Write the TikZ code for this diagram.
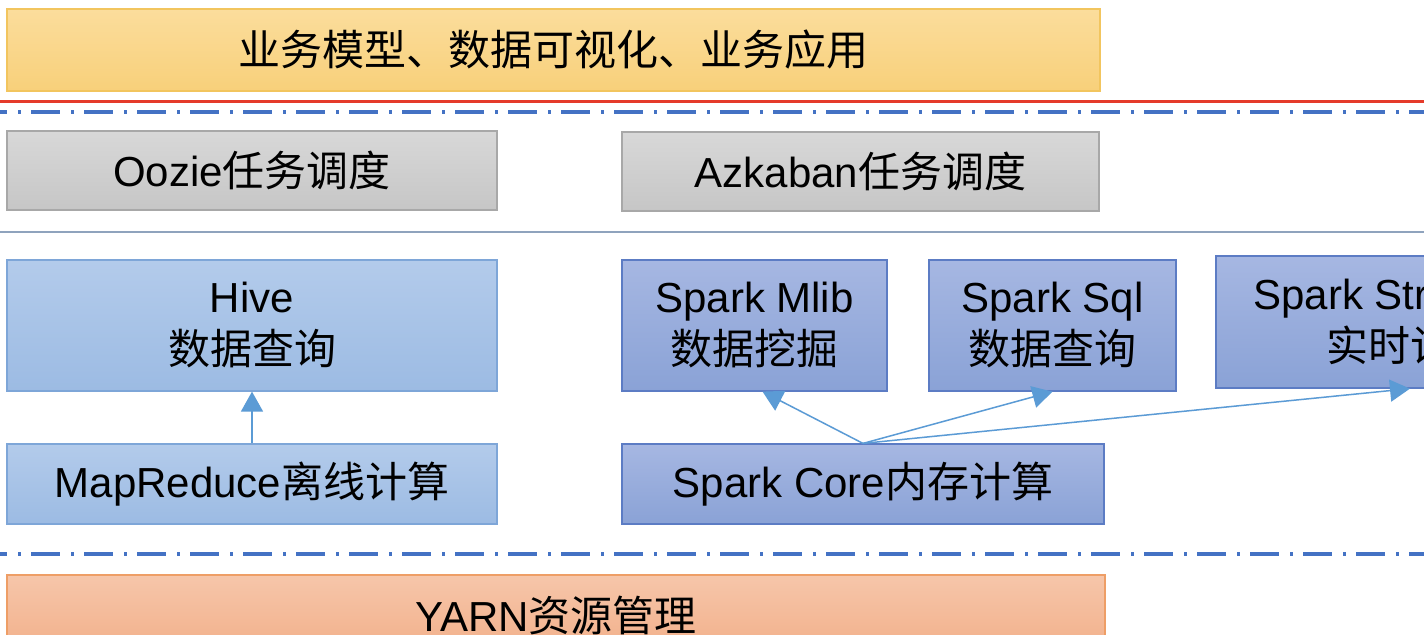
\documentclass[tikz,border=0pt]{standalone}
\usepackage{fontspec}
\setmainfont{Liberation Sans}
\newfontfamily\cjk{Noto Sans CJK SC}
\usetikzlibrary{arrows.meta}
\definecolor{ytop}{HTML}{FBDD9C}
\definecolor{ybot}{HTML}{F8D07A}
\definecolor{yedge}{HTML}{F2C55E}
\definecolor{gtop}{HTML}{D8D8D8}
\definecolor{gbot}{HTML}{C6C6C6}
\definecolor{gedge}{HTML}{A8A8A8}
\definecolor{ltop}{HTML}{B3CBEB}
\definecolor{lbot}{HTML}{9CBBE3}
\definecolor{ledge}{HTML}{7EA6D8}
\definecolor{stop}{HTML}{A6B7E2}
\definecolor{sbot}{HTML}{8AA2D6}
\definecolor{sedge}{HTML}{5C7CC4}
\definecolor{otop}{HTML}{F6C6AA}
\definecolor{obot}{HTML}{F2AF89}
\definecolor{oedge}{HTML}{EE9E66}
\definecolor{redline}{HTML}{E53B2A}
\definecolor{dashblue}{HTML}{4472C4}
\definecolor{thinline}{HTML}{8FA3BD}
\definecolor{arrowblue}{HTML}{5B9BD5}
\begin{document}
\begin{tikzpicture}[x=0.5pt,y=-0.5pt,
  box/.style={rectangle, inner sep=0pt, line width=0.6pt, align=center,
    font=\fontsize{21}{26}\selectfont},
  ybox/.style={box, draw=yedge, top color=ytop, bottom color=ybot},
  gbox/.style={box, draw=gedge, top color=gtop, bottom color=gbot},
  lbox/.style={box, draw=ledge, top color=ltop, bottom color=lbot},
  sbox/.style={box, draw=sedge, top color=stop, bottom color=sbot},
  obox/.style={box, draw=oedge, top color=otop, bottom color=obot},
  dashdot/.style={draw=dashblue, line width=1.75pt,
    dash pattern=on 14.5pt off 5.5pt on 1.25pt off 5.25pt, dash phase=11pt},
  arr/.style={draw=arrowblue, line width=0.75pt, -{Triangle[width=11pt,length=10pt]}}
]
\path[use as bounding box, clip] (0,0) rectangle (1424,634);
\fill[white] (0,0) rectangle (1424,634);

% layers
\node[ybox, minimum width=546.5pt, minimum height=41pt] (top) at (553.5,50) {\cjk 业务模型、数据可视化、业务应用};

\coordinate (rl) at (0,101); \coordinate (rr) at (1424,101);
\draw[redline, line width=1.5pt] (rl) -- (rr);
\coordinate (d1l) at (0,112); \coordinate (d1r) at (1424,112);
\draw[dashdot] (d1l) -- (d1r);

\node[gbox, minimum width=245pt, minimum height=39.5pt] (oozie) at (252,170.5) {Oozie{\cjk 任务调度}};
\node[gbox, minimum width=238.5pt, minimum height=39.5pt] (azk) at (860.5,171.5) {Azkaban{\cjk 任务调度}};

\coordinate (tl) at (0,232); \coordinate (tr) at (1424,232);
\draw[thinline, line width=1pt] (tl) -- (tr);

\node[lbox, minimum width=245pt, minimum height=65.5pt] (hive) at (252,325.5) {Hive\\{\cjk 数据查询}};
\node[sbox, minimum width=132.5pt, minimum height=65.5pt] (mlib) at (754.5,325.5) {Spark Mlib\\{\cjk 数据挖掘}};
\node[sbox, minimum width=123.5pt, minimum height=65.5pt] (sql) at (1052.5,325.5) {Spark Sql\\{\cjk 数据查询}};
\node[sbox, minimum width=194pt, minimum height=66pt] (stream) at (1410,322) {Spark Streaming\\{\cjk 实时计算}};

\node[lbox, minimum width=245pt, minimum height=40pt] (mr) at (252,484) {MapReduce{\cjk 离线计算}};
\node[sbox, minimum width=241pt, minimum height=40pt] (core) at (863,484) {Spark Core{\cjk 内存计算}};

\draw[arr] (mr.north) -- (hive.south);
\draw[arr] (core.north) -- ([xshift=4pt]mlib.south);
\draw[arr] (core.north) -- (sql.south);
\draw[arr] (core.north) -- (stream.south);

\coordinate (d2l) at (0,554); \coordinate (d2r) at (1424,554);
\draw[dashdot] (d2l) -- (d2r);

\node[obox, minimum width=549pt, minimum height=40pt] (yarn) at (556,615) {YARN{\cjk 资源管理}};
\end{tikzpicture}
\end{document}
